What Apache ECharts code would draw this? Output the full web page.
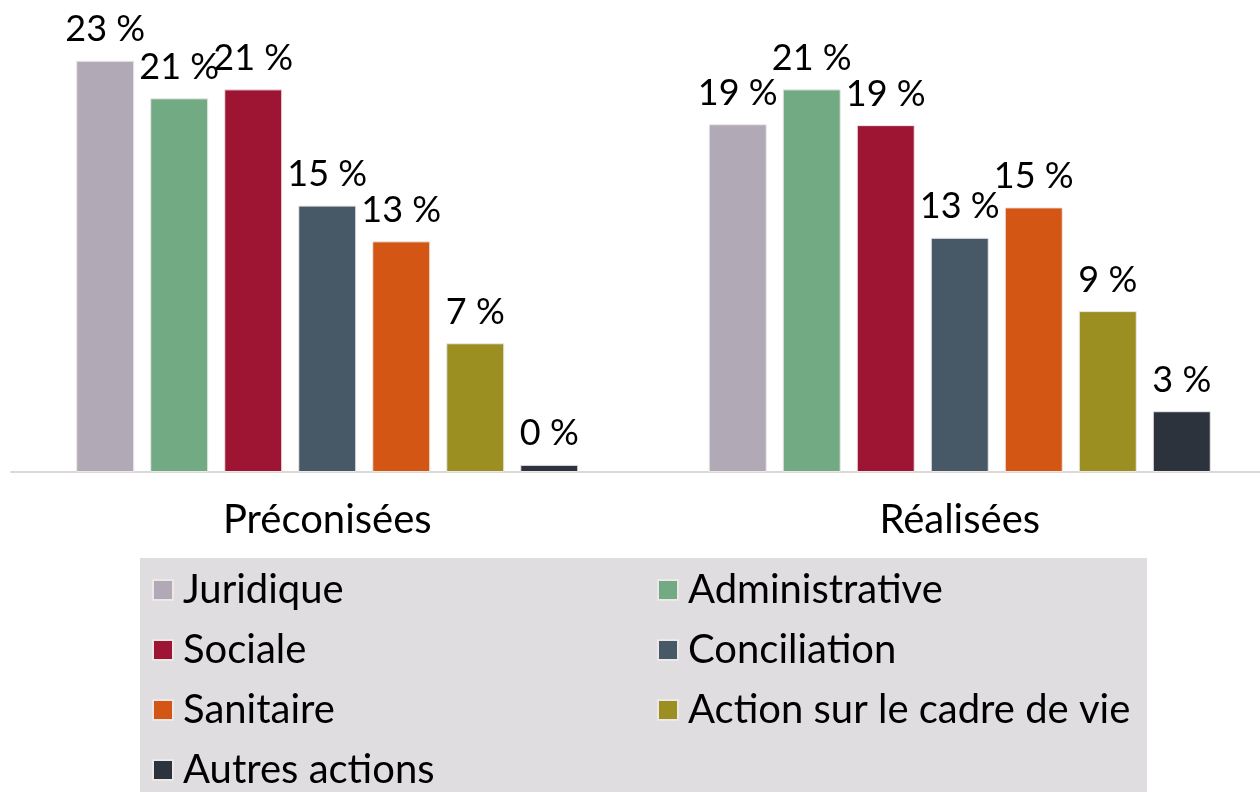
<!DOCTYPE html>
<html>
<head>
<meta charset="utf-8">
<script src="https://cdn.jsdelivr.net/npm/echarts@6/dist/echarts.min.js"></script>
<style>
  html, body { margin: 0; padding: 0; background: #fff; }
  #chart { width: 1260px; height: 792px; }
</style>
</head>
<body>
<div id="chart"></div>
<script>
// categories on the x axis
const categories = ['Préconisées', 'Réalisées'];

// one series per type of action (values in %)
const juridique      = [23.0, 19.45];
const administrative = [20.9, 21.4];
const sociale        = [21.4, 19.4];
const conciliation   = [14.9, 13.1];
const sanitaire      = [12.9, 14.8];
const cadreDeVie     = [7.2, 9.0];
const autres         = [0.4, 3.4];

const seriesNames = ['Juridique', 'Administrative', 'Sociale', 'Conciliation',
  'Sanitaire', 'Action sur le cadre de vie', 'Autres actions'];
const seriesData = [juridique, administrative, sociale, conciliation, sanitaire, cadreDeVie, autres];
const colors = ['#b1a9b5', '#72ab83', '#9e1533', '#475867', '#d45615', '#9b8f22', '#2c333d'];

const FONT = 'Lato';

const chart = echarts.init(document.getElementById('chart'));

const series = seriesNames.map((name, i) => ({
  name: name,
  type: 'bar',
  data: seriesData[i],
  barWidth: 58,
  barGap: '27.6%',
  itemStyle: { color: colors[i], borderColor: '#ece8e8', borderWidth: 1 },
  label: {
    show: true,
    position: 'top',
    distance: 13,
    fontFamily: FONT,
    fontSize: 36,
    color: '#000',
    formatter: p => Math.round(p.value) + ' %'
  }
}));

const legendBase = {
  orient: 'vertical',
  icon: 'rect',
  itemWidth: 20,
  itemHeight: 20,
  itemGap: 20,
  selectedMode: false,
  textStyle: { fontFamily: FONT, fontSize: 40, lineHeight: 40, color: '#000', padding: [0, 0, 0, 5] }
};

chart.setOption({
  animation: false,
  color: colors,
  grid: { left: 11, top: 25, width: 1265, height: 447, containLabel: false, outerBoundsMode: 'none' },
  xAxis: {
    type: 'category',
    data: categories,
    axisLine: { lineStyle: { color: '#dcd8d5', width: 2 } },
    axisTick: { show: false },
    axisLabel: { fontFamily: FONT, fontSize: 40, color: '#000', margin: 28 }
  },
  yAxis: {
    type: 'value',
    min: 0,
    max: 25,
    show: false,
    splitLine: { show: false }
  },
  graphic: [{
    type: 'rect',
    left: 140,
    top: 558,
    z: -1,
    shape: { width: 1007, height: 240 },
    style: { fill: '#dfdde0' }
  }],
  legend: [
    Object.assign({}, legendBase, { left: 147, top: 565, data: ['Juridique', 'Sociale', 'Sanitaire'] }),
    Object.assign({}, legendBase, { left: 147, top: 745, data: ['Autres actions'] }),
    Object.assign({}, legendBase, { left: 652, top: 565, data: ['Administrative', 'Conciliation', 'Action sur le cadre de vie'] })
  ],
  series: series
});
</script>
</body>
</html>
